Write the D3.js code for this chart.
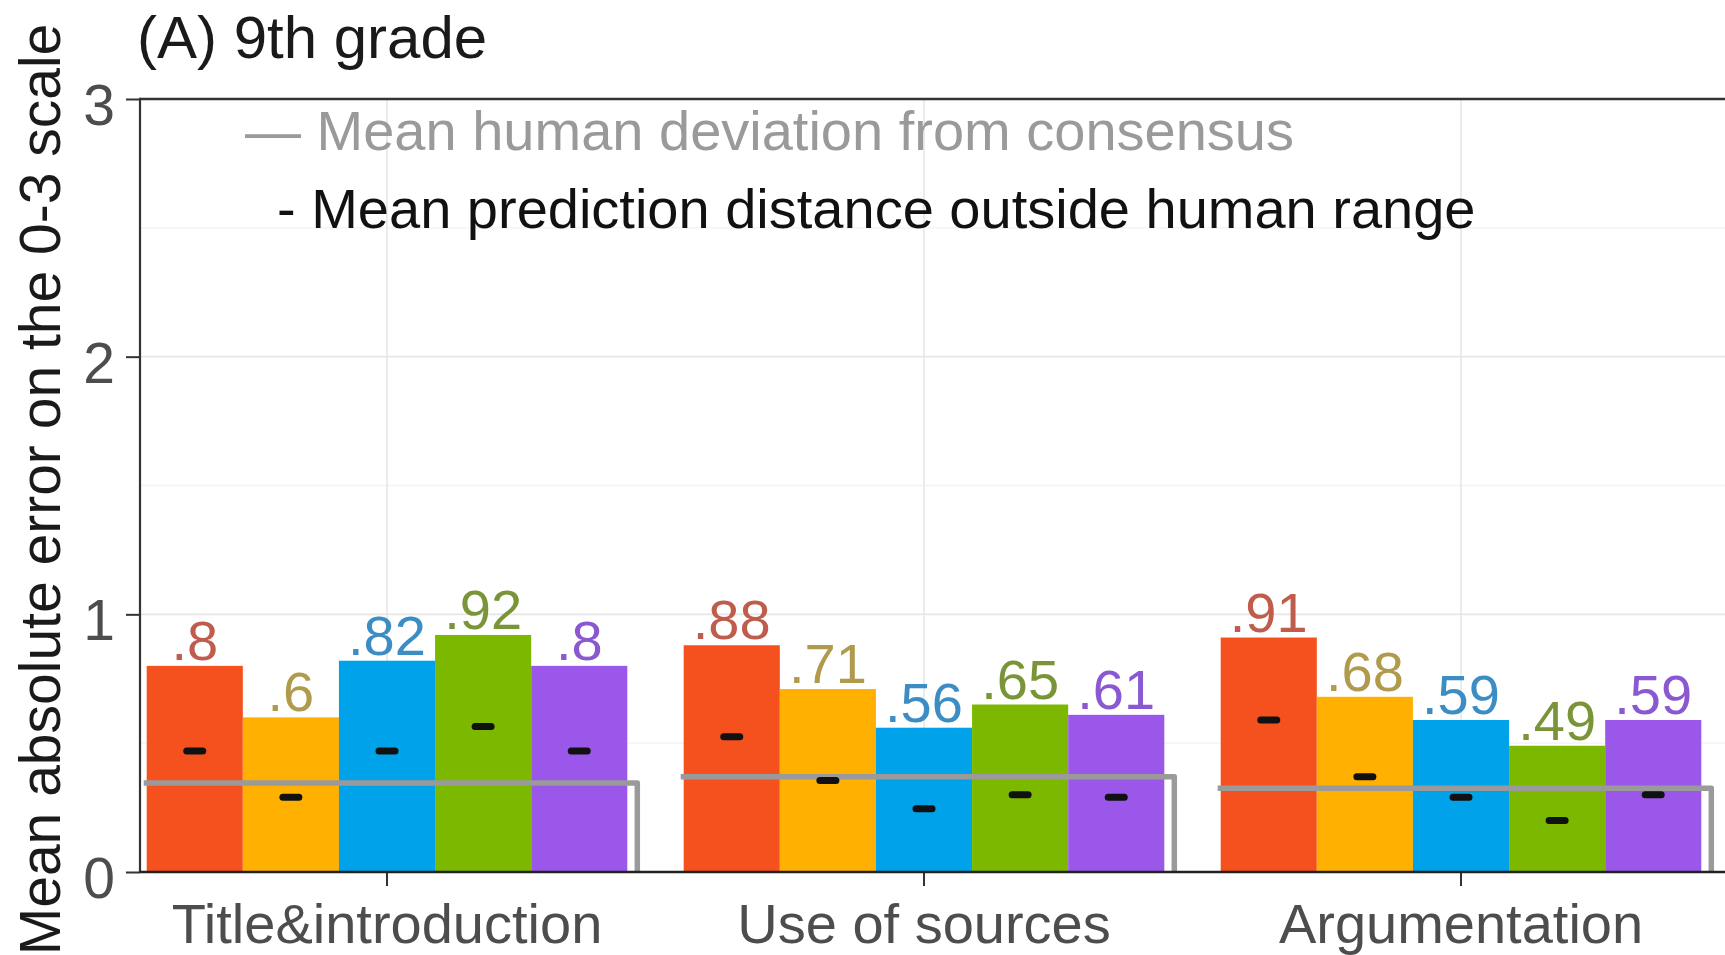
<!DOCTYPE html>
<html>
<head>
<meta charset="utf-8">
<script src="https://cdnjs.cloudflare.com/ajax/libs/d3/7.8.5/d3.min.js"></script>
<style>
  body{margin:0;background:#fff;}
  text{font-family:'Liberation Sans',Arial,sans-serif;}
</style>
</head>
<body>
<div id="canvas" class="canvas" style="width:1725px;height:955px;"></div>
<script>
//data
var categories = ['Title&introduction','Use of sources','Argumentation'];
var series = ['s1','s2','s3','s4','s5'];
var barColors = ['#f4511e','#ffb000','#00a2ea','#7cb800','#9b57ea'];
var labelColors = ['#bf5c4c','#b09a4c','#3b8dc4','#7a9438','#8a58d0'];

//mean absolute error, one array per category
var maeTitle = [0.8,0.6,0.82,0.92,0.8];
var maeSources = [0.88,0.71,0.56,0.65,0.61];
var maeArg = [0.91,0.68,0.59,0.49,0.59];

//mean prediction distance outside human range
var distTitle = [0.47,0.29,0.47,0.565,0.47];
var distSources = [0.525,0.355,0.245,0.30,0.29];
var distArg = [0.59,0.37,0.29,0.20,0.30];

//mean human deviation from consensus
var humanDev = [0.345,0.37,0.325];

var yTicks = [0,1,2,3];
var yMinor = [0.5,1.5,2.5];

var mae = [maeTitle,maeSources,maeArg];
var dist = [distTitle,distSources,distArg];

var rows = [];
categories.forEach(function(c,i){
    series.forEach(function(s,j){
        rows.push({cat:c, s:s, j:j, value:mae[i][j], dist:dist[i][j]});
    });
});

//margins
var m = {t:99,r:0,b:83,l:140};
var W = 1725, H = 955;
var h = H - m.t - m.b;

var svg = d3.select('.canvas')
    .append('svg')
    .attr('width',W)
    .attr('height',H);

var scaleY = d3.scaleLinear()
    .domain([0,3])
    .range([m.t + h, m.t]);

var step = 537;
var scaleX = d3.scaleBand()
    .domain(categories)
    .range([118.5, 118.5 + step*categories.length])
    .padding(0);

var groupW = step*0.895;
var scaleS = d3.scaleBand()
    .domain(series)
    .range([0,groupW]);

function cx(c){ return scaleX(c) + scaleX.bandwidth()/2; }
function gx(c){ return cx(c) - groupW/2; }

var y0 = scaleY(0);

//grid
var grid = svg.append('g').attr('class','grid');
grid.selectAll('.minor')
    .data(yMinor)
    .enter().append('line')
    .attr('x1',m.l).attr('x2',W)
    .attr('y1',function(d){return scaleY(d)})
    .attr('y2',function(d){return scaleY(d)})
    .style('stroke','#f2f2f2')
    .style('stroke-width',1.3);
grid.selectAll('.major')
    .data(yTicks.slice(1,3))
    .enter().append('line')
    .attr('x1',m.l).attr('x2',W)
    .attr('y1',function(d){return scaleY(d)})
    .attr('y2',function(d){return scaleY(d)})
    .style('stroke','#e6e6e6')
    .style('stroke-width',1.6);
grid.selectAll('.vert')
    .data(categories)
    .enter().append('line')
    .attr('x1',function(d){return cx(d)})
    .attr('x2',function(d){return cx(d)})
    .attr('y1',scaleY(3)).attr('y2',y0)
    .style('stroke','#e6e6e6')
    .style('stroke-width',1.6);

//bars
svg.selectAll('.bar')
    .data(rows)
    .enter().append('rect')
    .attr('class','bar')
    .attr('x',function(d){return gx(d.cat) + scaleS(d.s)})
    .attr('width',scaleS.bandwidth())
    .attr('y',function(d){return scaleY(d.value)})
    .attr('height',function(d){return y0 - scaleY(d.value)})
    .style('fill',function(d){return barColors[d.j]});

//human deviation bracket
svg.selectAll('.human')
    .data(categories)
    .enter().append('path')
    .attr('d',function(d,i){
        var yy = scaleY(humanDev[i]);
        return 'M' + (gx(d)-3) + ',' + yy + 'H' + (gx(d)+groupW+10) + 'V' + (y0-1);
    })
    .style('fill','none')
    .style('stroke','#9a9a9a')
    .style('stroke-width',5.5)
    .style('stroke-linejoin','round');

//prediction distance dashes
svg.selectAll('.dash')
    .data(rows)
    .enter().append('line')
    .attr('x1',function(d){return gx(d.cat) + scaleS(d.s) + scaleS.bandwidth()/2 - 8})
    .attr('x2',function(d){return gx(d.cat) + scaleS(d.s) + scaleS.bandwidth()/2 + 8})
    .attr('y1',function(d){return scaleY(d.dist)})
    .attr('y2',function(d){return scaleY(d.dist)})
    .style('stroke','#111')
    .style('stroke-width',7)
    .style('stroke-linecap','round');

//value labels
svg.selectAll('.lab')
    .data(rows)
    .enter().append('text')
    .attr('x',function(d){return gx(d.cat) + scaleS(d.s) + scaleS.bandwidth()/2})
    .attr('y',function(d){return scaleY(d.value) - 6})
    .attr('text-anchor','middle')
    .style('font-size','56px')
    .style('fill',function(d){return labelColors[d.j]})
    .text(function(d){return String(d.value).replace(/^0\./,'.')});

//axes
var axisY = d3.axisLeft(scaleY)
    .tickValues(yTicks)
    .tickSize(14)
    .tickPadding(11)
    .tickFormat(d3.format('d'));
var gy = svg.append('g')
    .attr('transform','translate(' + m.l + ',0)')
    .call(axisY);
gy.select('.domain').remove();
gy.selectAll('line').style('stroke','#333').style('stroke-width',2);
gy.selectAll('text')
    .attr('dy','0.45em')
    .style('font-size','57px')
    .style('fill','#4d4d4d')
    .style('font-family',"'Liberation Sans',Arial,sans-serif");

var axisX = d3.axisBottom(scaleX)
    .tickSize(14)
    .tickPadding(14);
var gxAxis = svg.append('g')
    .attr('transform','translate(0,' + y0 + ')')
    .call(axisX);
gxAxis.select('.domain').remove();
gxAxis.selectAll('line').style('stroke','#333').style('stroke-width',2);
gxAxis.selectAll('text')
    .attr('dy','0.76em')
    .style('font-size','56px')
    .style('fill','#4d4d4d')
    .style('font-family',"'Liberation Sans',Arial,sans-serif");

//panel lines
svg.append('line')
    .attr('x1',m.l).attr('x2',W)
    .attr('y1',m.t).attr('y2',m.t)
    .style('stroke','#333').style('stroke-width',2.5);
svg.append('line')
    .attr('x1',m.l).attr('x2',m.l)
    .attr('y1',m.t - 1.2).attr('y2',y0 + 1)
    .style('stroke','#333').style('stroke-width',2.2);
svg.append('line')
    .attr('x1',m.l).attr('x2',W)
    .attr('y1',y0).attr('y2',y0)
    .style('stroke','#222').style('stroke-width',2.5);

//titles
svg.append('text')
    .attr('x',137)
    .attr('y',58)
    .style('font-size','60px')
    .style('fill','#1a1a1a')
    .text('(A) 9th grade');

svg.append('text')
    .attr('transform','translate(60,' + (m.t + h/2 + 4) + ') rotate(-90)')
    .attr('text-anchor','middle')
    .style('font-size','57px')
    .style('fill','#1a1a1a')
    .text('Mean absolute error on the 0-3 scale');

//legend notes
svg.append('text')
    .attr('x',245)
    .attr('y',150)
    .style('font-size','56px')
    .style('fill','#9a9a9a')
    .text('\u2014 Mean human deviation from consensus');
svg.append('text')
    .attr('x',277)
    .attr('y',228)
    .style('font-size','56px')
    .style('fill','#111')
    .text('- Mean prediction distance outside human range');
</script>
</body>
</html>
